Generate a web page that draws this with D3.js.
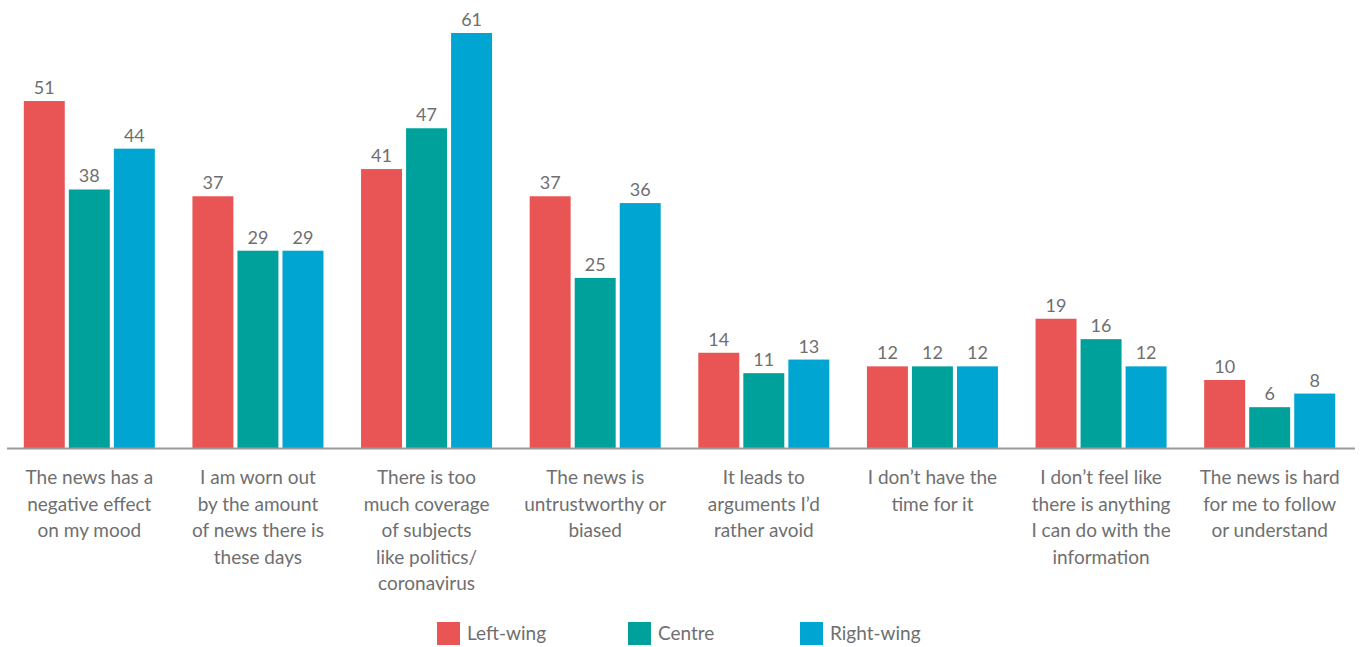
<!DOCTYPE html>
<html>
<head>
<meta charset="utf-8">
<script src="https://cdn.jsdelivr.net/npm/d3@7"></script>
<style>
  body { margin: 0; background: #fff; }
  text { font-family: Lato, "Open Sans", sans-serif; fill: #6f6f6f; }
</style>
</head>
<body>
<div id="chart"></div>
<script>
// category labels, already broken into lines as in the original
var categories = [
    ["The news has a", "negative effect", "on my mood"],
    ["I am worn out", "by the amount", "of news there is", "these days"],
    ["There is too", "much coverage", "of subjects", "like politics/", "coronavirus"],
    ["The news is", "untrustworthy or", "biased"],
    ["It leads to", "arguments I\u2019d", "rather avoid"],
    ["I don\u2019t have the", "time for it"],
    ["I don\u2019t feel like", "there is anything", "I can do with the", "information"],
    ["The news is hard", "for me to follow", "or understand"]
];
var seriesNames = ["Left-wing", "Centre", "Right-wing"];
var leftWing = [51, 37, 41, 37, 14, 12, 19, 10];
var centre = [38, 29, 47, 25, 11, 12, 16, 6];
var rightWing = [44, 29, 61, 36, 13, 12, 12, 8];
var colours = ["#e95555", "#00a19a", "#00a5d2"];

var width = 1361, height = 647;
var baseline = 448;

var svg = d3.select("#chart").append("svg")
    .attr("width", width)
    .attr("height", height);

// build rows for the grouped bars
var rows = categories.map(function (c, i) {
    return { idx: i, values: [leftWing[i], centre[i], rightWing[i]] };
});

var x0 = d3.scaleBand()
    .domain(d3.range(categories.length))
    .range([5, 1354])
    .paddingInner(0.223)
    .paddingOuter(0.1115);

var x1 = d3.scaleBand()
    .domain(d3.range(seriesNames.length))
    .range([0, x0.bandwidth()])
    .paddingInner(0.09);

var y = d3.scaleLinear()
    .domain([0, 61])
    .range([baseline, 33]);

var groups = svg.selectAll("g.group")
    .data(rows)
    .enter()
    .append("g")
    .attr("class", "group")
    .attr("transform", function (d) { return "translate(" + x0(d.idx) + ",0)"; });

groups.selectAll("rect")
    .data(function (d) { return d.values; })
    .enter()
    .append("rect")
    .attr("x", function (d, i) { return x1(i); })
    .attr("y", function (d) { return y(d); })
    .attr("width", x1.bandwidth())
    .attr("height", function (d) { return baseline - y(d); })
    .attr("fill", function (d, i) { return colours[i]; });

// value labels above bars
groups.selectAll("text.val")
    .data(function (d) { return d.values; })
    .enter()
    .append("text")
    .attr("class", "val")
    .attr("x", function (d, i) { return x1(i) + x1.bandwidth() / 2; })
    .attr("y", function (d) { return y(d) - 7; })
    .attr("text-anchor", "middle")
    .style("font-size", "18px")
    .text(function (d) { return d; });

// axis line
svg.append("line")
    .attr("x1", 7).attr("x2", 1355)
    .attr("y1", baseline + 0.5).attr("y2", baseline + 0.5)
    .attr("stroke", "#9a9a9a")
    .attr("stroke-width", 2);

// category labels
var lab = svg.selectAll("text.cat")
    .data(categories)
    .enter()
    .append("text")
    .attr("class", "cat")
    .attr("text-anchor", "middle")
    .style("font-size", "19px")
    .attr("transform", function (d, i) {
        return "translate(" + (x0(i) + x0.bandwidth() / 2) + ",484)";
    });

lab.selectAll("tspan")
    .data(function (d) { return d; })
    .enter()
    .append("tspan")
    .attr("x", 0)
    .attr("y", function (d, i) { return i * 26.5; })
    .text(function (d) { return d; });

// legend
var legendX = [437, 628, 800];
var legend = svg.selectAll("g.legend")
    .data(seriesNames)
    .enter()
    .append("g")
    .attr("class", "legend")
    .attr("transform", function (d, i) { return "translate(" + legendX[i] + ",622)"; });

legend.append("rect")
    .attr("width", 23)
    .attr("height", 23)
    .attr("fill", function (d, i) { return colours[i]; });

legend.append("text")
    .attr("x", 30)
    .attr("y", 18)
    .style("font-size", "19px")
    .text(function (d) { return d; });
</script>
</body>
</html>
